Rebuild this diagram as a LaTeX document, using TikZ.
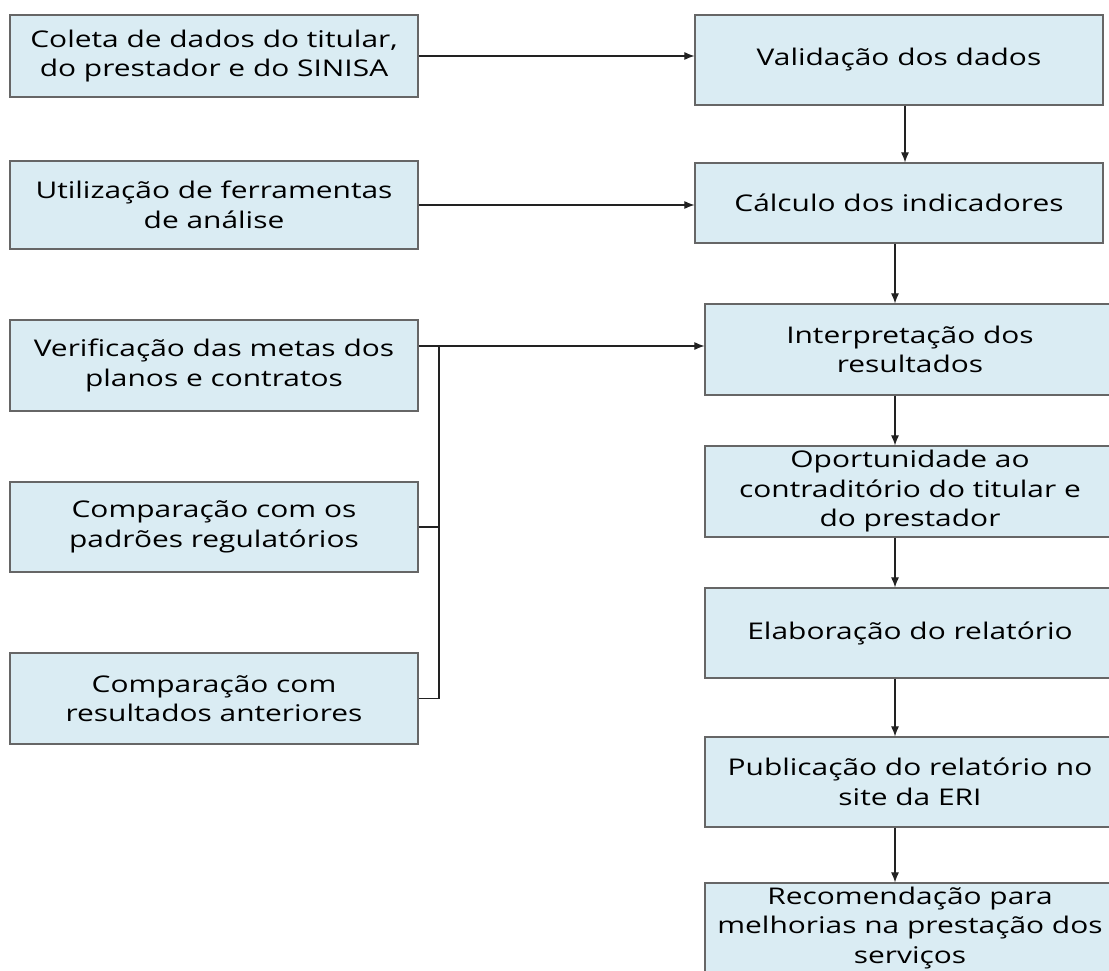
\documentclass[tikz,border=0pt]{standalone}
\usepackage{fontspec}
\setmainfont{Open Sans}[FakeStretch=1.3]
\usepackage{tikz}
\usetikzlibrary{arrows.meta,calc}
\definecolor{boxfill}{HTML}{DAECF3}
\definecolor{boxline}{HTML}{666666}
\definecolor{wire}{HTML}{222222}

\begin{document}
\begin{tikzpicture}[x=1pt,y=-1pt,>={Latex[length=10pt,width=8pt]},
		box/.style={draw=boxline,fill=boxfill,line width=1.2pt,rectangle,align=center,inner sep=2pt,
			font=\fontsize{23}{29.5}\selectfont,minimum width=408pt},
		wirec/.style={draw=wire,line width=1.1pt}]
		\clip (0,0) rectangle (1109,971);
		\fill[white] (0,0) rectangle (1109,971);
		% left column
		\node (coleta)     [box,minimum height=82pt] at (214,56)    {Coleta de dados do titular,\\do prestador e do SINISA};
		\node (utiliz)     [box,minimum height=88pt] at (214,205)   {Utilização de ferramentas\\de análise};
		\node (verif)      [box,minimum height=91pt] at (214,365.5) {Verificação das metas dos\\planos e contratos};
		\node (padroes)    [box,minimum height=90pt] at (214,527)   {Comparação com os\\padrões regulatórios};
		\node (anteriores) [box,minimum height=91pt] at (214,698.5) {Comparação com\\resultados anteriores};
		% right column
		\node (validacao)  [box,minimum height=90pt] at (899,60)    {Validação dos dados};
		\node (calculo)    [box,minimum height=80pt] at (899,203)   {Cálculo dos indicadores};
		\node (interp)     [box,minimum height=91pt,minimum width=410pt] at (910,349.5) {Interpretação dos\\resultados};
		\node (oport)      [box,minimum height=91pt,minimum width=410pt] at (910,491.5) {Oportunidade ao\\contraditório do titular e\\do prestador};
		\node (elab)       [box,minimum height=90pt,minimum width=410pt] at (910,633)   {Elaboração do relatório};
		\node (public)     [box,minimum height=90pt,minimum width=410pt] at (910,782)   {Publicação do relatório no\\site da ERI};
		\node (recom)      [box,minimum height=90pt,minimum width=410pt] at (910,928)   {Recomendação para\\melhorias na prestação dos\\serviços};
		% connectors
		\coordinate (jn) at (439,346);
		\draw [->,wirec] (coleta.east) -- (coleta.east -| validacao.west);
		\draw [->,wirec] (utiliz.east) -- (utiliz.east -| calculo.west);
		\draw [wirec] (verif.east |- jn) -- (jn);
		\draw [->,wirec] (jn) -- (jn -| interp.west);
		\draw [wirec] (padroes.east) -| (jn);
		\draw [wirec] (anteriores.east) -| (jn);
		\draw [->,wirec] ([xshift=6]validacao.south) -- ([xshift=6]calculo.north);
		\draw [->,wirec] ([xshift=-4]calculo.south) -- ([xshift=-15]interp.north);
		\foreach \a/\b in {interp/oport,oport/elab,elab/public,public/recom}
			\draw [->,wirec] ([xshift=-15]\a.south) -- ([xshift=-15]\b.north);
	\end{tikzpicture}
\end{document}
